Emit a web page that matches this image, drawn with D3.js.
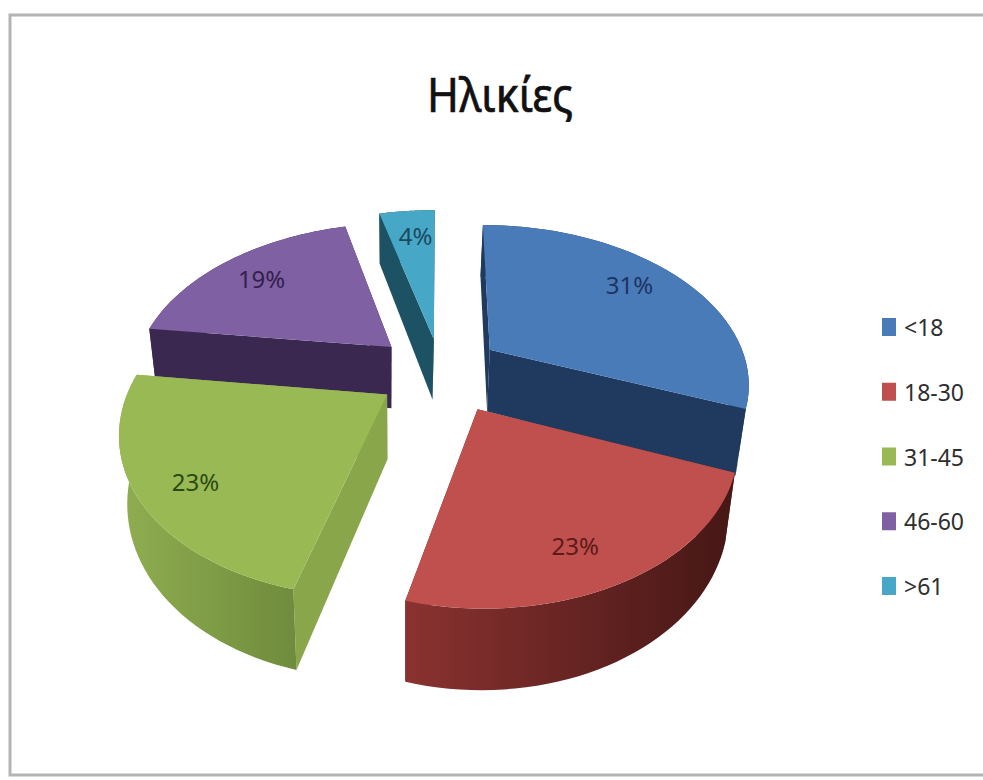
<!DOCTYPE html>
<html lang="el">
<head>
<meta charset="utf-8">
<style>
  html, body { margin: 0; padding: 0; background: #fff; }
  svg { display: block; }
  text { font-family: "Noto Sans", "Open Sans", sans-serif; }
</style>
<script src="https://cdn.jsdelivr.net/npm/d3@7"></script>
</head>
<body>
<svg id="chart" width="983" height="780"></svg>
<script>
// Age groups and their shares
const titleText = "Ηλικίες";
const categories = ["<18", "18-30", "31-45", "46-60", ">61"];
const shares = [31, 23, 23, 19, 4];

// Slice colours: top face, cut face, outer wall (left and right of its gradient), label ink
const topColors = ["#4a7bb9", "#c0504d", "#99b955", "#7f60a2", "#46a7c6"];
const cutColors = ["#1f3a5e", "#6e2826", "#89a74a", "#3a2850", "#1c5263"];
const wallStart = ["#1f3a5e", "#8a3230", "#90ae50", "#3a2850", "#1c5263"];
const wallEnd   = ["#1f3a5e", "#451715", "#6f8b3d", "#3a2850", "#1c5263"];
const labelInk  = ["#1c3461", "#5c1a18", "#2c4a12", "#33204f", "#1b4a60"];

// Per-slice layout: pull-out and radius in pie radii, extra screen shift in pixels
const explosion   = [0.20, 0.21, 0.25, 0.21, 0.20];
const sliceRadius = [1.00, 0.95, 0.98, 1.00, 1.08];
const shiftX      = [2, 6, -4, -15, -6];
const shiftY      = [-2, 10, 3, -1, 0];

// Label placement: radial position, then a small pixel correction
const labelReach = [0.74, 0.80, 0.78, 0.78, 0.86];
const labelDX    = [0, -21, 2, 0, 4];
const labelDY    = [-7, -4, 8, 1, 3];

// Draw order runs back to front
const drawOrder = [4, 3, 0, 2, 1];

const svg = d3.select("#chart");
const defs = svg.append("defs");

// Chart frame
svg.append("rect")
  .attr("x", 10).attr("y", 15).attr("width", 1000).attr("height", 760)
  .attr("fill", "#fff").attr("stroke", "#b4b4b4").attr("stroke-width", 3);

svg.append("text")
  .attr("x", 500).attr("y", 112).attr("text-anchor", "middle")
  .attr("font-size", 48).attr("textLength", 146).attr("lengthAdjust", "spacingAndGlyphs")
  .attr("fill", "#111").attr("stroke", "#111").attr("stroke-width", 0.7).text(titleText);

// Disc coordinates (-1..1) to screen, before perspective
const scaleX = d3.scaleLinear().domain([-1, 1]).range([446 - 258, 446 + 258]);
const scaleY = d3.scaleLinear().domain([-1, 1]).range([369 + 156, 369 - 156]);
const tilt = 0.2;          // foreshortening from back to front of the disc
const depth = 63;          // thickness of the pie
const vanishX = 400;       // walls converge slightly toward this column
const converge = 0.03;

function project(u, v, drop) {
  const s = 1 / (1 + tilt * v);
  const cx = scaleX(0), cy = scaleY(0);
  let x = cx + (scaleX(u) - cx) * s;
  const y = cy + (scaleY(v) - cy) * s + drop * depth * s;
  x = vanishX + (x - vanishX) * (1 - converge * drop);
  return [x, y];
}

const pieLayout = d3.pie().sort(null).value(d => d);
const arcs = pieLayout(shares);
const line = d3.line();

drawOrder.forEach(i => {
  const a = arcs[i];
  const mid = (a.startAngle + a.endAngle) / 2;
  const ou = explosion[i] * Math.sin(mid);
  const ov = explosion[i] * Math.cos(mid);
  const rim = d3.range(0, 41).map(k => a.startAngle + (a.endAngle - a.startAngle) * k / 40);
  const pt = (ang, r, drop) => {
    const rr = r * sliceRadius[i];
    const [x, y] = project(ou + rr * Math.sin(ang), ov + rr * Math.cos(ang), drop);
    return [x + shiftX[i], y + shiftY[i]];
  };

  const group = svg.append("g").attr("class", "slice");

  const gradId = "wall-" + i;
  const grad = defs.append("linearGradient").attr("id", gradId);
  grad.append("stop").attr("offset", "0%").attr("stop-color", wallStart[i]);
  grad.append("stop").attr("offset", "100%").attr("stop-color", wallEnd[i]);

  // Cut faces from the hub out to either end of the rim
  [a.endAngle, a.startAngle].forEach(ang => {
    group.append("path")
      .attr("d", line([pt(0, 0, 0), pt(ang, 1, 0), pt(ang, 1, 1), pt(0, 0, 1)]) + "Z")
      .attr("fill", cutColors[i]);
  });

  // Outer curved wall
  const upper = rim.map(t => pt(t, 1, 0));
  const lower = rim.map(t => pt(t, 1, 1)).reverse();
  group.append("path")
    .attr("d", line(upper.concat(lower)) + "Z")
    .attr("fill", `url(#${gradId})`);

  // Top face
  group.append("path")
    .attr("d", line([pt(0, 0, 0)].concat(upper)) + "Z")
    .attr("fill", topColors[i]);
});

// Percentage labels sit on the top faces
arcs.forEach((a, i) => {
  const mid = (a.startAngle + a.endAngle) / 2;
  const r = explosion[i] + labelReach[i];
  const [x, y] = project(r * Math.sin(mid), r * Math.cos(mid), 0);
  svg.append("text")
    .attr("x", x + shiftX[i] + labelDX[i]).attr("y", y + shiftY[i] + labelDY[i] + 9)
    .attr("text-anchor", "middle")
    .attr("font-size", 24).attr("fill", labelInk[i])
    .text(shares[i] + "%");
});

// Legend
const legendY = d3.scalePoint().domain(categories).range([327, 586]);
const legend = svg.append("g").selectAll("g").data(categories).join("g")
  .attr("transform", d => `translate(882,${legendY(d)})`);
legend.append("rect")
  .attr("x", 0).attr("y", -9).attr("width", 14).attr("height", 18)
  .attr("fill", (d, i) => topColors[i]);
legend.append("text")
  .attr("x", 22).attr("y", 9).attr("font-size", 23).attr("fill", "#2e2e2e")
  .text(d => d);
</script>
</body>
</html>
